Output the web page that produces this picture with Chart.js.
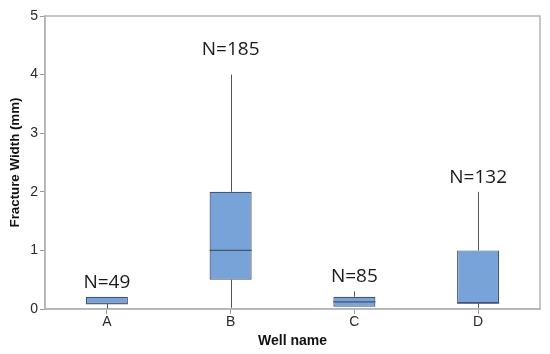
<!DOCTYPE html>
<html>
<head>
<meta charset="utf-8">
<script src="https://cdn.jsdelivr.net/npm/chart.js@4"></script>
<style>
html, body { margin: 0; padding: 0; background: #fff; }
#wrap { width: 550px; height: 354px; }
</style>
</head>
<body>
<div id="wrap"><canvas id="chart"></canvas></div>
<script>
// box plot values (mm)
const wells = ['A', 'B', 'C', 'D']
const mins = [0.01, 0.02, 0.04, 0.02]
const q1s = [0.09, 0.5, 0.04, 0.1]
const medians = [0.09, 1.0, 0.12, 0.1]
const q3s = [0.21, 2.0, 0.21, 1.0]
const maxs = [0.21, 4.0, 0.3, 2.0]
const counts = [49, 185, 85, 132]
const yTicks = [0, 1, 2, 3, 4, 5]

const boxFill = '#77a3d9'
const boxBorder = '#44536e'
const frameColor = '#b4b4b4'
const labelGaps = [9, 20, 9, 9] // px between whisker top and the N= text

function line(ctx, x1, y1, x2, y2) {
    ctx.beginPath()
    ctx.moveTo(x1, y1)
    ctx.lineTo(x2, y2)
    ctx.stroke()
}

// frame, whiskers, medians and the N= labels
const boxExtras = {
    id: 'boxExtras',
    beforeDatasetsDraw(chart) {
        const { ctx, chartArea } = chart
        const y = chart.scales.y
        const meta = chart.getDatasetMeta(0)
        ctx.save()
        ctx.strokeStyle = frameColor
        ctx.lineWidth = 1.5
        ctx.strokeRect(chartArea.left, chartArea.top, chartArea.right - chartArea.left, chartArea.bottom - chartArea.top)
        ctx.strokeStyle = '#555'
        ctx.lineWidth = 1
        meta.data.forEach((bar, i) => {
            const cx = Math.round(bar.x) + 0.5
            line(ctx, cx, y.getPixelForValue(q3s[i]), cx, y.getPixelForValue(maxs[i]))
            line(ctx, cx, y.getPixelForValue(q1s[i]), cx, y.getPixelForValue(mins[i]))
        })
        ctx.restore()
    },
    afterDatasetsDraw(chart) {
        const { ctx } = chart
        const y = chart.scales.y
        const meta = chart.getDatasetMeta(0)
        ctx.save()
        meta.data.forEach((bar, i) => {
            const half = bar.width / 2
            const my = y.getPixelForValue(medians[i])
            ctx.strokeStyle = boxBorder
            ctx.lineWidth = 1.2
            line(ctx, bar.x - half, my, bar.x + half, my)

            ctx.fillStyle = '#1a1a1a'
            ctx.font = '19px "Open Sans"'
            ctx.textAlign = 'center'
            ctx.textBaseline = 'alphabetic'
            ctx.fillText('N=' + counts[i], bar.x, y.getPixelForValue(maxs[i]) - labelGaps[i])
        })
        ctx.restore()
    }
}

const ctx = document.getElementById('chart').getContext('2d')
const chart = new Chart(ctx, {
    type: 'bar',
    data: {
        labels: wells,
        datasets: [{
            data: wells.map((w, i) => [q1s[i], q3s[i]]),
            backgroundColor: boxFill,
            borderColor: boxBorder,
            borderWidth: 1.2,
            borderSkipped: false,
            categoryPercentage: 1,
            barPercentage: 0.34
        }]
    },
    options: {
        responsive: true,
        maintainAspectRatio: false,
        animation: false,
        layout: { padding: { left: 0, right: 10, top: 16, bottom: 0 } },
        plugins: {
            legend: { display: false },
            tooltip: { enabled: false }
        },
        scales: {
            x: {
                afterFit: (s) => { s.height = 45 },
                grid: { display: true, drawOnChartArea: false, offset: false, color: '#999', tickLength: 5 },
                border: { color: frameColor, width: 1.5 },
                ticks: { color: '#2a2a2a', padding: 0, font: { family: 'Liberation Sans', size: 14 } },
                title: {
                    display: true,
                    text: 'Well name',
                    color: '#111',
                    padding: { top: 0, bottom: 4 },
                    font: { family: 'Liberation Sans', size: 14, weight: 'bold' }
                }
            },
            y: {
                min: 0,
                max: 5,
                afterFit: (s) => { s.width = 45 },
                afterBuildTicks: (s) => { s.ticks = yTicks.map(v => ({ value: v })) },
                grid: { display: true, drawOnChartArea: false, color: '#999', tickLength: 5 },
                border: { color: frameColor, width: 1.5 },
                ticks: { color: '#2a2a2a', padding: 2, font: { family: 'Liberation Sans', size: 14 } },
                title: {
                    display: true,
                    text: 'Fracture Width (mm)',
                    color: '#111',
                    padding: { top: 7, bottom: 0 },
                    font: { family: 'Liberation Sans', size: 13.3, weight: 'bold' }
                }
            }
        }
    },
    plugins: [boxExtras]
})
</script>
</body>
</html>
